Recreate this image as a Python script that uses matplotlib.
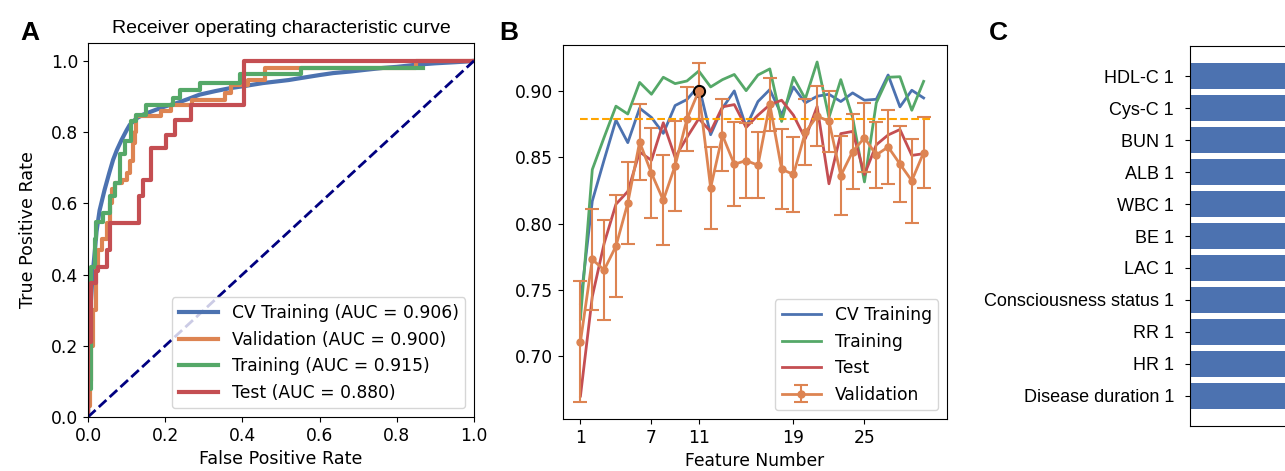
import numpy as np
import matplotlib
matplotlib.use("Agg")
import matplotlib.pyplot as plt

plt.rcParams['font.family'] = ['DejaVu Sans']
plt.rcParams['font.size'] = 12.3

# seaborn "deep" colours
BLUE = '#4C72B0'
ORANGE = '#DD8452'
GREEN = '#55A868'
RED = '#C44E52'

# ---------- Panel A: ROC curves (corner points) ----------
cv_fpr = [0, 0.002, 0.006, 0.012, 0.018, 0.022, 0.03, 0.043, 0.055, 0.065, 0.075, 0.087, 0.1,
          0.108, 0.125, 0.143, 0.16, 0.177, 0.2, 0.229, 0.26, 0.289, 0.33, 0.367, 0.41, 0.453,
          0.52, 0.548, 0.6, 0.635, 0.68, 0.721, 0.764, 0.8, 0.85, 0.9, 0.95, 0.98, 1.0]
cv_tpr = [0, 0.2, 0.3, 0.4, 0.47, 0.52, 0.58, 0.638, 0.685, 0.722, 0.75, 0.778, 0.805,
          0.82, 0.838, 0.849, 0.856, 0.863, 0.872, 0.881, 0.893, 0.905, 0.915, 0.923, 0.93, 0.9375,
          0.946, 0.951, 0.96, 0.9655, 0.97, 0.975, 0.98, 0.983, 0.989, 0.993, 0.996, 0.998, 1.0]

val_fpr = [0, 0, 0.005, 0.005, 0.009, 0.009, 0.013, 0.013, 0.02, 0.02, 0.026, 0.026, 0.035, 0.035,
           0.048, 0.048, 0.056, 0.056, 0.062, 0.062, 0.069, 0.069, 0.087, 0.087, 0.1, 0.1, 0.11, 0.11,
           0.117, 0.117, 0.121, 0.121, 0.125, 0.125, 0.188, 0.188, 0.214, 0.214, 0.27, 0.27, 0.355,
           0.355, 0.37, 0.37, 0.415, 0.415, 0.458, 0.458, 0.85, 0.85, 1.0]
val_tpr = [0, 0.03, 0.03, 0.1, 0.1, 0.2, 0.2, 0.3, 0.3, 0.42, 0.42, 0.47, 0.47, 0.5,
           0.5, 0.545, 0.545, 0.6, 0.6, 0.64, 0.64, 0.657, 0.657, 0.666, 0.666, 0.685, 0.685, 0.72,
           0.72, 0.769, 0.769, 0.8, 0.8, 0.846, 0.846, 0.858, 0.858, 0.877, 0.877, 0.891, 0.891,
           0.909, 0.909, 0.933, 0.933, 0.947, 0.947, 0.98, 0.98, 1.0, 1.0]

train_fpr = [0, 0, 0.009, 0.009, 0.017, 0.017, 0.022, 0.022, 0.039, 0.039, 0.056, 0.056, 0.069, 0.069,
             0.082, 0.082, 0.095, 0.095, 0.112, 0.112, 0.125, 0.125, 0.151, 0.151, 0.22, 0.22,
             0.238, 0.238, 0.289, 0.289, 0.393, 0.393, 0.553, 0.553, 0.868]
train_tpr = [0, 0.08, 0.08, 0.42, 0.42, 0.5, 0.5, 0.547, 0.547, 0.573, 0.573, 0.62, 0.62, 0.657,
             0.657, 0.737, 0.737, 0.774, 0.774, 0.83, 0.83, 0.849, 0.849, 0.877, 0.877, 0.895,
             0.895, 0.917, 0.917, 0.9375, 0.9375, 0.9635, 0.9635, 0.98, 0.98]

test_fpr = [0, 0, 0.009, 0.009, 0.022, 0.022, 0.026, 0.026, 0.048, 0.048, 0.056, 0.056, 0.132, 0.132,
            0.143, 0.143, 0.164, 0.164, 0.203, 0.203, 0.225, 0.225, 0.268, 0.268, 0.404, 0.404, 1.0]
test_tpr = [0, 0.21, 0.21, 0.375, 0.375, 0.41, 0.41, 0.42, 0.42, 0.47, 0.47, 0.545, 0.545, 0.62,
            0.62, 0.666, 0.666, 0.755, 0.755, 0.793, 0.793, 0.833, 0.833, 0.877, 0.877, 1.0, 1.0]

auc_values = {'CV Training': 0.906, 'Validation': 0.900, 'Training': 0.915, 'Test': 0.880}

# ---------- Panel B: AUC vs number of features ----------
feature_n = list(range(1, 31))
cv_auc = [0.740, 0.817, 0.848, 0.878, 0.861, 0.887, 0.880, 0.868, 0.889, 0.8935,
          0.904, 0.867, 0.887, 0.900, 0.873, 0.892, 0.901, 0.882, 0.903, 0.891,
          0.896, 0.8975, 0.892, 0.8985, 0.893, 0.8937, 0.912, 0.888, 0.9005, 0.8947]
train_auc = [0.728, 0.8407, 0.865, 0.8885, 0.8826, 0.9064, 0.8975, 0.9103, 0.9055, 0.9075,
             0.915, 0.903, 0.9085, 0.9124, 0.9002, 0.912, 0.9166, 0.877, 0.9103, 0.894,
             0.9218, 0.880, 0.9085, 0.880, 0.8314, 0.891, 0.9103, 0.9107, 0.8854, 0.9072]
test_auc = [0.670, 0.745, 0.785, 0.8146, 0.8242, 0.854, 0.8477, 0.876, 0.850, 0.865,
            0.8791, 0.8694, 0.888, 0.8897, 0.8725, 0.8817, 0.8896, 0.893, 0.8817, 0.864,
            0.8883, 0.830, 0.8678, 0.8695, 0.837, 0.8594, 0.8668, 0.8709, 0.8514, 0.8527]
val_auc = [0.711, 0.773, 0.765, 0.783, 0.8155, 0.8615, 0.838, 0.8176, 0.8437, 0.8787,
           0.900, 0.8269, 0.8666, 0.8447, 0.8475, 0.844, 0.890, 0.841, 0.837, 0.8688,
           0.8809, 0.8772, 0.8362, 0.8543, 0.8647, 0.8517, 0.8578, 0.8449, 0.8323, 0.8535]
val_err = [0.0455, 0.038, 0.038, 0.0385, 0.031, 0.029, 0.034, 0.034, 0.034, 0.024,
           0.021, 0.031, 0.027, 0.0315, 0.028, 0.025, 0.020, 0.030, 0.0285, 0.025,
           0.0225, 0.023, 0.030, 0.028, 0.026, 0.025, 0.0277, 0.0286, 0.0315, 0.027]
baseline_auc = 0.879
best_n = 11
best_auc = 0.900
b_xticks = [1, 7, 11, 19, 25]

# ---------- Panel C: selected features ----------
feature_labels = ['Disease duration 1', 'HR 1', 'RR 1', 'Consciousness status 1', 'LAC 1',
                  'BE 1', 'WBC 1', 'ALB 1', 'BUN 1', 'Cys-C 1', 'HDL-C 1']
feature_values = [1, 1, 1, 1, 1, 1, 1, 1, 1, 1, 1]

ARIAL = ['Liberation Sans', 'DejaVu Sans']

W, H = 1285, 471
fig = plt.figure(figsize=(W / 100, H / 100), dpi=100)


def px_axes(left, top, right, bottom):
    return fig.add_axes([left / W, 1 - bottom / H, (right - left) / W, (bottom - top) / H])


# Panel A
axA = px_axes(88, 43, 474, 417)
axA.plot(cv_fpr, cv_tpr, color=BLUE, lw=3,
         label=f"CV Training (AUC = {auc_values['CV Training']:.3f})")
axA.plot(val_fpr, val_tpr, color=ORANGE, lw=3,
         label=f"Validation (AUC = {auc_values['Validation']:.3f})")
axA.plot(train_fpr, train_tpr, color=GREEN, lw=3,
         label=f"Training (AUC = {auc_values['Training']:.3f})")
axA.plot(test_fpr, test_tpr, color=RED, lw=3,
         label=f"Test (AUC = {auc_values['Test']:.3f})")
axA.plot([0, 1], [0, 1], color='navy', lw=2, linestyle='--')
axA.set_xlim(0, 1.0)
axA.set_ylim(0, 1.05)
axA.set_xticks([0, 0.2, 0.4, 0.6, 0.8, 1.0])
axA.set_yticks([0, 0.2, 0.4, 0.6, 0.8, 1.0])
axA.set_xlabel('False Positive Rate', fontsize=12.6)
axA.set_ylabel('True Positive Rate', fontsize=12.6, labelpad=10)
axA.set_title('Receiver operating characteristic curve', family=ARIAL, fontsize=14, pad=7)
axA.legend(loc='lower right', handlelength=2.3)

# Panel B
axB = px_axes(563, 45, 947, 419)
axB.plot(feature_n, cv_auc, color=BLUE, lw=2, label='CV Training')
axB.plot(feature_n, train_auc, color=GREEN, lw=2, label='Training')
axB.plot(feature_n, test_auc, color=RED, lw=2, label='Test')
axB.errorbar(feature_n, val_auc, yerr=val_err, fmt='-o', color=ORANGE, lw=2,
             elinewidth=1.5, markersize=5, capsize=5, capthick=1.5, label='Validation')
axB.hlines(baseline_auc, feature_n[0], feature_n[-1] + 0.5, colors='orange',
           linestyles='--', lw=1.5)
axB.plot([best_n], [best_auc], 'o', color=ORANGE, markeredgecolor='black',
         markersize=8, markeredgewidth=1.5)
axB.set_xticks(b_xticks)
axB.set_yticks([0.70, 0.75, 0.80, 0.85, 0.90])
axB.set_xlabel('Feature Number')
axB.legend(loc='lower right', handlelength=2.3)

# Panel C (cut off at the right edge as in the source)
axC = px_axes(1190, 46, 1580, 426)
axC.barh(range(len(feature_labels)), feature_values, color=BLUE, height=0.8)
axC.set_yticks(range(len(feature_labels)))
axC.set_yticklabels(feature_labels, family=ARIAL, fontsize=13)
axC.tick_params(axis='y', pad=8)
axC.set_xticks([])

for letter, xpx in [('A', 20), ('B', 499), ('C', 989)]:
    fig.text(xpx / W, 1 - 40 / H, letter, fontsize=19, fontweight='bold',
             family=ARIAL, va='baseline')

fig.savefig('out.png', dpi=100)
